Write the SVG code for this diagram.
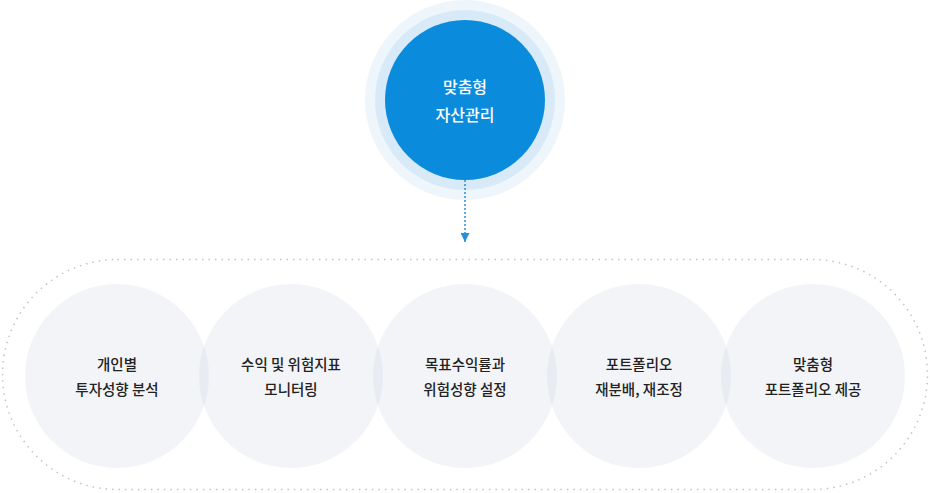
<svg xmlns="http://www.w3.org/2000/svg" width="930" height="493" viewBox="0 0 930 493">
<style>
.t{font-family:"Noto Sans CJK KR","Noto Sans",sans-serif;font-size:14.5px;font-weight:500;fill:#222;text-anchor:middle}
.tw{font-family:"Noto Sans CJK KR","Noto Sans",sans-serif;font-size:16px;font-weight:500;fill:#fff;text-anchor:middle}
.sc{fill:#b9bed6;fill-opacity:0.17}
</style>
<defs>
<marker id="ah" viewBox="0 0 10 10" refX="10" refY="5" markerWidth="9" markerHeight="9" markerUnits="userSpaceOnUse" orient="auto">
<path d="M0,0 L10,5 L0,10 Z" fill="#2b8fd8"/>
</marker>
</defs>
<rect x="2.5" y="259.5" width="925" height="230" rx="115" ry="115" fill="none" stroke="#bfc3cb" stroke-width="1.5" stroke-dasharray="1.5 5"/>
<g id="center">
<circle cx="465" cy="100" r="100" fill="#eef6fc"/>
<circle cx="465" cy="100" r="90" fill="#d8eaf8"/>
<circle cx="465" cy="100" r="80" fill="#0a8bdc"/>
<text class="tw" x="465" y="93">맞춤형</text>
<text class="tw" x="465" y="121">자산관리</text>
</g>
<g id="connectors">
<line x1="465" y1="180" x2="465" y2="242" stroke="#2b8fd8" stroke-width="1.5" stroke-dasharray="2 2" marker-end="url(#ah)"/>
</g>
<g id="n1">
<circle class="sc" cx="117" cy="376" r="92"/>
<text class="t" x="117" y="370">개인별</text>
<text class="t" x="117" y="395">투자성향 분석</text>
</g>
<g id="n2">
<circle class="sc" cx="291" cy="376" r="92"/>
<text class="t" x="291" y="370">수익 및 위험지표</text>
<text class="t" x="291" y="395">모니터링</text>
</g>
<g id="n3">
<circle class="sc" cx="465" cy="376" r="92"/>
<text class="t" x="465" y="370">목표수익률과</text>
<text class="t" x="465" y="395">위험성향 설정</text>
</g>
<g id="n4">
<circle class="sc" cx="639" cy="376" r="92"/>
<text class="t" x="639" y="370">포트폴리오</text>
<text class="t" x="639" y="395">재분배, 재조정</text>
</g>
<g id="n5">
<circle class="sc" cx="813" cy="376" r="92"/>
<text class="t" x="813" y="370">맞춤형</text>
<text class="t" x="813" y="395">포트폴리오 제공</text>
</g>
</svg>
